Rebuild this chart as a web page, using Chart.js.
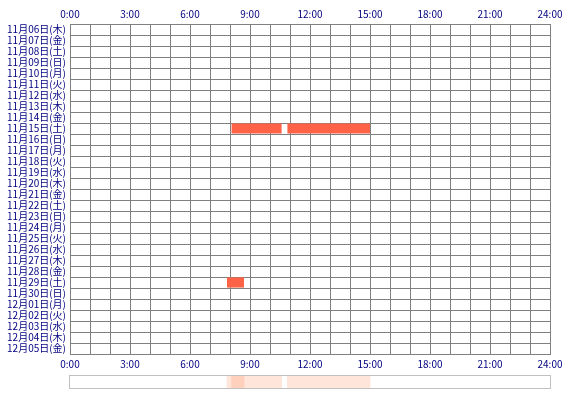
<!DOCTYPE html>
<html>
<head>
<meta charset="utf-8">
<script src="https://cdn.jsdelivr.net/npm/chart.js@4/dist/chart.umd.min.js"></script>
<style>
  html, body { margin: 0; padding: 0; background: #fff; }
  #wrap { position: relative; width: 570px; height: 400px; }
  #main { position: absolute; left: 0; top: 0; }
  #stripBox { position: absolute; left: 69px; top: 375px; width: 480px; height: 12px; border: 1px solid #c0c0c0; }
</style>
</head>
<body>
<div id="wrap">
  <canvas id="main" width="570" height="372"></canvas>
  <div id="stripBox"><canvas id="strip" width="480" height="12"></canvas></div>
</div>
<script>
// ─── DATA ─────────────────────────────────────────────────
const days = [
    '11月06日(木)', '11月07日(金)', '11月08日(土)', '11月09日(日)', '11月10日(月)',
    '11月11日(火)', '11月12日(水)', '11月13日(木)', '11月14日(金)', '11月15日(土)',
    '11月16日(日)', '11月17日(月)', '11月18日(火)', '11月19日(水)', '11月20日(木)',
    '11月21日(金)', '11月22日(土)', '11月23日(日)', '11月24日(月)', '11月25日(火)',
    '11月26日(水)', '11月27日(木)', '11月28日(金)', '11月29日(土)', '11月30日(日)',
    '12月01日(月)', '12月02日(火)', '12月03日(水)', '12月04日(木)', '12月05日(金)'
];
const sessionDays  = ['11月15日(土)', '11月15日(土)', '11月29日(土)'];
const sessionStart = [8.08, 10.87, 7.85];
const sessionEnd   = [10.58, 15.0, 8.7];
const hourTicks = [0, 3, 6, 9, 12, 15, 18, 21, 24];

const navy = '#000080';
const gridGray = '#808080';
const barColor = '#ff6347';
const fontJP = { family: '"Noto Sans CJK JP", "DejaVu Sans", sans-serif', size: 10 };

const sessions = sessionDays.map((d, i) => ({ y: d, x: [sessionStart[i], sessionEnd[i]] }));

const hourLabel = v => hourTicks.includes(v) ? v + ':00' : '';

function xAxis(position) {
    return {
        type: 'linear',
        position: position,
        min: 0, max: 24,
        grid: { color: gridGray, lineWidth: 1, drawTicks: false },
        border: { color: gridGray },
        ticks: {
            stepSize: 1, autoSkip: false, maxRotation: 0,
            padding: 4, color: navy, font: fontJP,
            callback: hourLabel
        },
        afterFit: s => { s.height = position === 'top' ? 24 : 18; }
    };
}

// ─── MAIN CHART ───────────────────────────────────────────
new Chart(document.getElementById('main'), {
    type: 'bar',
    data: {
        labels: days,
        datasets: [{
            data: sessions,
            backgroundColor: barColor,
            borderWidth: 0,
            barPercentage: 0.92,
            categoryPercentage: 1,
            xAxisID: 'x'
        }]
    },
    options: {
        indexAxis: 'y',
        responsive: false,
        animation: false,
        layout: { padding: { left: 0, right: 20, top: 0, bottom: 0 } },
        plugins: { legend: { display: false }, tooltip: { enabled: false } },
        scales: {
            x: xAxis('top'),
            x2: xAxis('bottom'),
            y: {
                type: 'category',
                grid: { color: gridGray, lineWidth: 1, drawTicks: false, offset: true },
                border: { color: gridGray },
                ticks: { color: navy, font: fontJP, padding: 4, autoSkip: false },
                afterFit: s => { s.width = 70; }
            }
        }
    }
});

// ─── SUMMARY STRIP ────────────────────────────────────────
new Chart(document.getElementById('strip'), {
    type: 'bar',
    data: {
        labels: ['all'],
        datasets: sessionStart.map((s, i) => ({
            data: [[s, sessionEnd[i]]],
            backgroundColor: 'rgba(255,110,50,0.18)',
            borderWidth: 0,
            barPercentage: 1,
            categoryPercentage: 1,
            grouped: false
        }))
    },
    options: {
        indexAxis: 'y',
        responsive: false,
        animation: false,
        layout: { padding: 0 },
        plugins: { legend: { display: false }, tooltip: { enabled: false } },
        scales: {
            x: { type: 'linear', min: 0, max: 24, display: false },
            y: { display: false }
        }
    }
});
</script>
</body>
</html>
